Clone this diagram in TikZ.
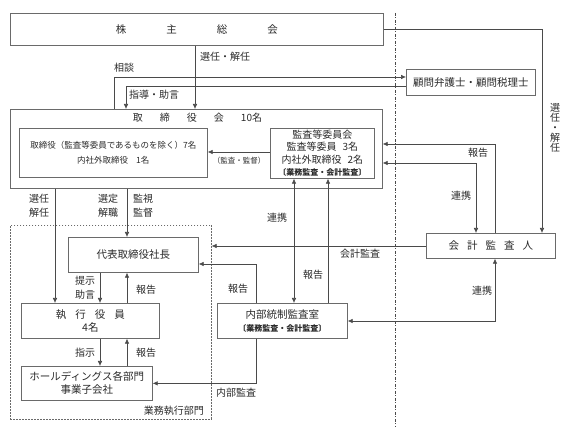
\documentclass[tikz,border=0pt]{standalone}
\usepackage{fontspec}
\setmainfont{Noto Sans CJK JP}
\usetikzlibrary{arrows.meta}
\definecolor{linec}{HTML}{4A4A4A}
\definecolor{boxc}{HTML}{6A6A6A}
\definecolor{txt}{HTML}{2A2A2A}
\begin{document}
\begin{tikzpicture}[x=1pt,y=-1pt,
  box/.style={draw=boxc, line width=0.7pt, anchor=north west, inner sep=0pt, align=center, text=txt, font=\fontsize{10.5}{13}\selectfont},
  ln/.style={draw=linec, line width=0.6pt},
  arr/.style={ln, -{Latex[length=5pt,width=4.5pt]}},
  darr/.style={ln, {Latex[length=5pt,width=4.5pt]}-{Latex[length=5pt,width=4.5pt]}},
  lbl/.style={inner sep=0pt, text=txt, align=center, font=\fontsize{10}{14}\selectfont},
  dashdotline/.style={draw=linec, line width=0.6pt, dash pattern=on 3pt off 1.5pt on 1pt off 1.5pt},
  grp/.style={draw=boxc, line width=0.6pt, dash pattern=on 1.8pt off 1.2pt, anchor=north west, inner sep=0pt}
]
\useasboundingbox (0,0) rectangle (568,427);

% helper coordinates
\coordinate (X55) at (55,0);
\coordinate (X100) at (100,0);
\coordinate (X114) at (114,0);
\coordinate (X126) at (126,0);
\coordinate (X127) at (127,0);
\coordinate (X195) at (195,0);
\coordinate (X256) at (256,0);
\coordinate (X294) at (294,0);
\coordinate (X328) at (328,0);
\coordinate (X476) at (476,0);
\coordinate (X495) at (495,0);
\coordinate (X542) at (542,0);
\coordinate (Y77) at (0,77);
\coordinate (Y86) at (0,86);
\coordinate (Y144) at (0,144);
\coordinate (Y152) at (0,152);
\coordinate (Y163) at (0,163);
\coordinate (Y246) at (0,246);
\coordinate (Y264) at (0,264);
\coordinate (Y321) at (0,321);
\coordinate (dtop) at (395,13);
\coordinate (dbot) at (395,427);

% dash-dot separator
\draw[dashdotline] (dtop) -- (dbot);

% boxes
\node[box, minimum width=373pt, minimum height=32pt] (sh) at (10,13) {株\hspace{40pt}主\hspace{40pt}総\hspace{40pt}会};
\node[box, minimum width=129pt, minimum height=26pt] (adv) at (406,69) {顧問弁護士・顧問税理士};
\node[box, minimum width=372pt, minimum height=79pt] (bd) at (10,109) {};
\node[lbl] (bdt) at (197.5,118) {取\hspace{17pt}締\hspace{17pt}役\hspace{17pt}会\hspace{17pt}10名};
\node[box, minimum width=188pt, minimum height=49pt, font=\fontsize{8.5}{15}\selectfont] (bdl) at (19,128) {取締役（監査等委員であるものを除く）7名\\内社外取締役\hspace{8pt}1名};
\node[box, minimum width=104pt, minimum height=50pt, font=\fontsize{10}{12.5}\selectfont] (ac) at (270,128) {監査等委員会\\監査等委員\hspace{6pt}3名\\内社外取締役\hspace{6pt}2名\\{\bfseries\fontsize{8}{10}\selectfont 〔業務監査・会計監査〕}};
\node[box, minimum width=129pt, minimum height=25pt] (aud) at (426,233) {会\hspace{8pt}計\hspace{8pt}監\hspace{8pt}査\hspace{8pt}人};
\node[box, minimum width=130pt, minimum height=35pt] (ia) at (217,303) {内部統制監査室\\{\bfseries\fontsize{8}{10}\selectfont 〔業務監査・会計監査〕}};
\node[grp, minimum width=201pt, minimum height=194pt] (exe) at (10,225) {};
\node[box, minimum width=130pt, minimum height=35pt] (pres) at (68,237) {代表取締役社長};
\node[box, minimum width=138pt, minimum height=35pt] (exec) at (21,303) {執\hspace{9pt}行\hspace{9pt}役\hspace{9pt}員\\4名};
\node[box, minimum width=131pt, minimum height=34pt] (hd) at (21,366) {ホールディングス各部門\\事業子会社};
\node[lbl, anchor=east] (exel) at (204,411) {業務執行部門};

% connectors
\draw[arr] (sh.south -| X195) -- (bd.north -| X195);
\draw[arr] (sh.east) -| (aud.north -| X542);
\draw[arr] (bd.north -| X114) |- (adv.west |- Y77);
\draw[arr] (adv.west |- Y86) -| (bd.north -| X126);
\draw[arr] (ac.west |- Y152) -- (bdl.east |- Y152);
\draw[arr] (aud.north -| X495) |- (bd.east |- Y144);
\draw[darr] (bd.east |- Y163) -| (aud.north -| X476);
\draw[arr] (aud.west |- Y246) -- (exe.east |- Y246);
\draw[darr] (aud.south -| X495) |- (ia.east |- Y321);
\draw[darr] (ac.south -| X294) -- (ia.north -| X294);
\draw[arr] (ia.north -| X328) -- (ac.south -| X328);
\draw[arr] (ia.north -| X256) |- (pres.east |- Y264);
\draw[arr] (ia.south -| X256) |- (hd.east);
\draw[arr] (bd.south -| X55) -- (exec.north -| X55);
\draw[arr] (bd.south -| X127) -- (pres.north -| X127);
\draw[arr] (pres.south -| X100) -- (exec.north -| X100);
\draw[arr] (exec.north -| X127) -- (pres.south -| X127);
\draw[arr] (exec.south -| X100) -- (hd.north -| X100);
\draw[arr] (hd.north -| X127) -- (exec.south -| X127);

% labels
\node[lbl, anchor=west] (l1) at (200,57) {選任・解任};
\node[lbl, anchor=west] (l2) at (114,68) {相談};
\node[lbl, anchor=west] (l3) at (129,95) {指導・助言};
\node[lbl, font=\fontsize{10}{10}\selectfont] (l4) at (555,128) {選\\任\\・\\解\\任};
\node[lbl, font=\fontsize{7.5}{9}\selectfont] (l5) at (239,161) {（監査・監督）};
\node[lbl] (l6) at (478,153) {報告};
\node[lbl] (l7) at (461,196) {連携};
\node[lbl] (l8) at (360,254) {会計監査};
\node[lbl] (l9) at (482,291) {連携};
\node[lbl] (l10) at (277,218) {連携};
\node[lbl] (l11) at (313,275) {報告};
\node[lbl] (l12) at (238,289) {報告};
\node[lbl] (l13) at (236,393) {内部監査};
\node[lbl] (l14) at (39,206) {選任\\解任};
\node[lbl] (l15) at (108,206) {選定\\解職};
\node[lbl] (l16) at (143,206) {監視\\監督};
\node[lbl] (l17) at (85,288) {提示\\助言};
\node[lbl] (l18) at (146,290) {報告};
\node[lbl] (l19) at (85,353) {指示};
\node[lbl] (l20) at (146,353) {報告};
\end{tikzpicture}
\end{document}
